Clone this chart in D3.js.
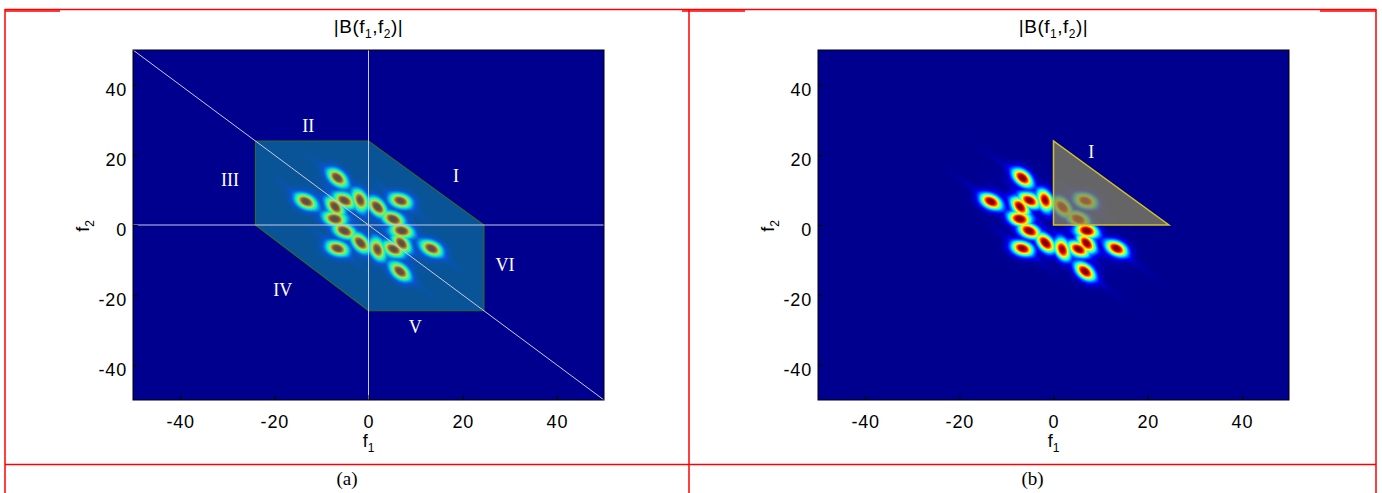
<!DOCTYPE html>
<html>
<head>
<meta charset="utf-8">
<script src="https://cdn.jsdelivr.net/npm/d3@7"></script>
<style>
body { margin: 0; background: #fff; }
svg text { font-family: "Liberation Sans", Arial, sans-serif; fill: #000; }
</style>
</head>
<body>
<div id="chart"></div>
<script>
// blob centres (f1, f2), peak height and tilt (degrees, clockwise on screen)
var blobF1   = [-6.6, -13.3, -5.1, -1.8, -7.1, -7.1, 1.9, 6.8, 5.3, -5.2, 7.0, -1.7, -6.6, 1.9, 5.3, 7.0, 13.4, 6.7];
var blobF2   = [13.5, 6.7, 7.0, 7.0, 5.2, 1.8, 5.2, 6.9, 1.7, -1.7, -1.7, -5.2, -6.7, -6.9, -6.9, -5.2, -6.7, -13.3];
var blobAmp  = [1, 1, 1, 0.95, 1, 1, 0.97, 1, 0.97, 0.97, 1, 0.97, 1, 0.95, 1, 1, 1, 1];
var blobTilt = [40, 25, 25, 70, 50, 10, 50, 15, 20, 20, 10, 50, 15, 70, 25, 50, 25, 40];

var xTicks = [-40, -20, 0, 20, 40];
var yTicks = [-40, -20, 0, 20, 40];

// symmetry regions (panel a) and the non-redundant triangle (panel b)
var hexF1 = [-24, 0, 24.5, 24.5, 0, -24];
var hexF2 = [24, 24, 0, -24.5, -24.5, 0];
var triF1 = [0, 0, 24.5];
var triF2 = [24, 0, 0];
var regionNames = ["I", "II", "III", "IV", "V", "VI"];
var regionF1 = [18.6, -12.8, -29.4, -18.2, 9.9, 29];
var regionF2 = [14, 28.4, 13, -18.7, -29, -11.3];
var captions = ["(a)", "(b)"];

var W = 1382, H = 493;
var plotW = 471, plotH = 350, plotTop = 50;
var panelLeft = [133, 818];
var cellMid = [347, 1032.5];

var svg = d3.select("#chart").append("svg")
    .attr("width", W)
    .attr("height", H);

var x = d3.scaleLinear().domain([-50, 50]).range([0, plotW]);
var y = d3.scaleLinear().domain([-50, 50]).range([plotH, 0]);

// matlab jet(64)
function jet(v) {
    var t = (1 + Math.max(0, Math.min(1, v)) * 63) / 64;
    var c = k => Math.max(0, Math.min(1, 1.5 - Math.abs(4 * t - k)));
    return [c(3), c(2), c(1)];
}

// paint the |B| map once, reuse for both panels
function heatURL() {
    var cv = document.createElement("canvas");
    cv.width = plotW; cv.height = plotH;
    var ctx = cv.getContext("2d");
    var img = ctx.createImageData(plotW, plotH);
    var blobs = blobF1.map((f, i) => ({
        px: x(f), py: y(blobF2[i]), a: blobAmp[i],
        c: Math.cos(blobTilt[i] * Math.PI / 180), s: Math.sin(blobTilt[i] * Math.PI / 180)
    }));
    var sMaj = 7.4, sMin = 4.7;
    var stTh = Math.atan2(plotH, plotW); // faint smear along f1+f2 = const
    var stC = Math.cos(stTh), stS = Math.sin(stTh);
    for (var j = 0; j < plotH; j++) {
        for (var i = 0; i < plotW; i++) {
            var v = 0, s = 0;
            for (var k = 0; k < blobs.length; k++) {
                var b = blobs[k];
                var dx = i + 0.5 - b.px, dy = j + 0.5 - b.py;
                var u = dx * b.c + dy * b.s, w = -dx * b.s + dy * b.c;
                v = Math.max(v, b.a * Math.exp(-0.5 * (u * u / (sMaj * sMaj) + w * w / (sMin * sMin))));
                var u2 = dx * stC + dy * stS, w2 = -dx * stS + dy * stC;
                s += 0.06 * Math.exp(-0.5 * (u2 * u2 / 500 + w2 * w2 / 6));
            }
            var col = jet(v + s);
            var p = (j * plotW + i) * 4;
            img.data[p] = col[0] * 255;
            img.data[p + 1] = col[1] * 255;
            img.data[p + 2] = col[2] * 255;
            img.data[p + 3] = 255;
        }
    }
    ctx.putImageData(img, 0, 0);
    return cv.toDataURL();
}
var heat = heatURL();

// text with f1/f2 style subscripts
function subText(sel, parts) {
    var shift = 0;
    parts.forEach(p => {
        var t = sel.append("tspan").text(p[0]);
        var want = p[1] ? 5 : 0;
        if (want !== shift) t.attr("dy", want - shift);
        if (p[1]) t.style("font-size", "12px");
        shift = want;
    });
}

panelLeft.forEach((left, pi) => {
    var g = svg.append("g").attr("transform", "translate(" + left + "," + plotTop + ")");

    g.append("image")
        .attr("href", heat)
        .attr("width", plotW)
        .attr("height", plotH)
        .attr("preserveAspectRatio", "none");

    if (pi === 0) {
        var hex = hexF1.map((f, i) => [x(f), y(hexF2[i])]);
        g.append("polygon")
            .attr("points", hex.join(" "))
            .attr("fill", "rgb(20,210,160)")
            .attr("fill-opacity", 0.4)
            .attr("stroke", "#2E6B2E")
            .attr("stroke-width", 1.2);

        var lineCol = "#C8C8E6";
        g.append("line").attr("x1", x(0)).attr("x2", x(0)).attr("y1", 0).attr("y2", plotH)
            .attr("stroke", lineCol).attr("stroke-width", 1);
        g.append("line").attr("x1", 0).attr("x2", plotW).attr("y1", y(0)).attr("y2", y(0))
            .attr("stroke", lineCol).attr("stroke-width", 1);
        g.append("line").attr("x1", x(-50)).attr("y1", y(50)).attr("x2", x(50)).attr("y2", y(-50))
            .attr("stroke", lineCol).attr("stroke-width", 1);

        g.selectAll(".reg")
            .data(regionNames)
            .enter()
            .append("text")
            .attr("x", (d, i) => x(regionF1[i]))
            .attr("y", (d, i) => y(regionF2[i]) + 6)
            .attr("text-anchor", "middle")
            .style("font-family", "'Liberation Serif', serif")
            .style("font-size", "18px")
            .style("fill", "#fff")
            .text(d => d);
    } else {
        var tri = triF1.map((f, i) => [x(f), y(triF2[i])]);
        g.append("polygon")
            .attr("points", tri.join(" "))
            .attr("fill", "rgb(135,135,90)")
            .attr("fill-opacity", 0.75)
            .attr("stroke", "#D2C21E")
            .attr("stroke-width", 1.5);
        g.append("text")
            .attr("x", x(8))
            .attr("y", y(21) + 6)
            .attr("text-anchor", "middle")
            .style("font-family", "'Liberation Serif', serif")
            .style("font-size", "18px")
            .style("fill", "#fff")
            .text(regionNames[0]);
    }

    // axes, ticks inside like matlab
    var xa = g.append("g")
        .attr("transform", "translate(0," + plotH + ")")
        .call(d3.axisBottom(x).tickValues(xTicks).tickFormat(d => String(d))
            .tickSizeInner(-5).tickSizeOuter(0).tickPadding(15));
    var ya = g.append("g")
        .call(d3.axisLeft(y).tickValues(yTicks).tickFormat(d => String(d))
            .tickSizeInner(-5).tickSizeOuter(0).tickPadding(6));
    [xa, ya].forEach(a => {
        a.select(".domain").remove();
        a.selectAll("line").attr("stroke", "#000");
        a.selectAll("text")
            .style("font-family", "'Liberation Sans', Arial, sans-serif")
            .style("font-size", "18px")
            .style("letter-spacing", "0.8px");
    });
    ya.selectAll("text").attr("dy", "0.6em");

    g.append("rect")
        .attr("width", plotW)
        .attr("height", plotH)
        .attr("fill", "none")
        .attr("stroke", "#000")
        .attr("stroke-width", 1);

    var title = g.append("text")
        .attr("x", plotW / 2)
        .attr("y", -17)
        .attr("text-anchor", "middle")
        .style("font-size", "19px")
        .style("letter-spacing", "0.5px");
    subText(title, [["|B(f"], ["1", 1], [",f"], ["2", 1], [")|"]]);

    var xl = g.append("text")
        .attr("x", x(0))
        .attr("y", plotH + 47)
        .attr("text-anchor", "middle")
        .style("font-size", "18px");
    subText(xl, [["f"], ["1", 1]]);

    var yl = g.append("text")
        .attr("transform", "translate(-44," + (plotH / 2 + 1) + ") rotate(-90)")
        .attr("text-anchor", "middle")
        .style("font-size", "18px");
    subText(yl, [["f"], ["2", 1]]);

    svg.append("text")
        .attr("x", cellMid[pi])
        .attr("y", 485)
        .attr("text-anchor", "middle")
        .style("font-family", "'Liberation Serif', serif")
        .style("font-size", "19px")
        .text(captions[pi]);
});

// red table rules round the two figures
var red = "#FF0000";
var rules = svg.append("g").attr("stroke", red).attr("stroke-width", 1.5);
rules.append("line").attr("x1", 5).attr("x2", 1376).attr("y1", 9.5).attr("y2", 9.5);
rules.append("line").attr("x1", 5).attr("x2", 1376).attr("y1", 464.5).attr("y2", 464.5);
[5, 689, 1376].forEach(vx => {
    rules.append("line").attr("x1", vx).attr("x2", vx).attr("y1", 9).attr("y2", H);
});
[[5, 60], [682, 745], [1320, 1376]].forEach(seg => {
    rules.append("line").attr("x1", seg[0]).attr("x2", seg[1]).attr("y1", 11).attr("y2", 11);
});
</script>
</body>
</html>
